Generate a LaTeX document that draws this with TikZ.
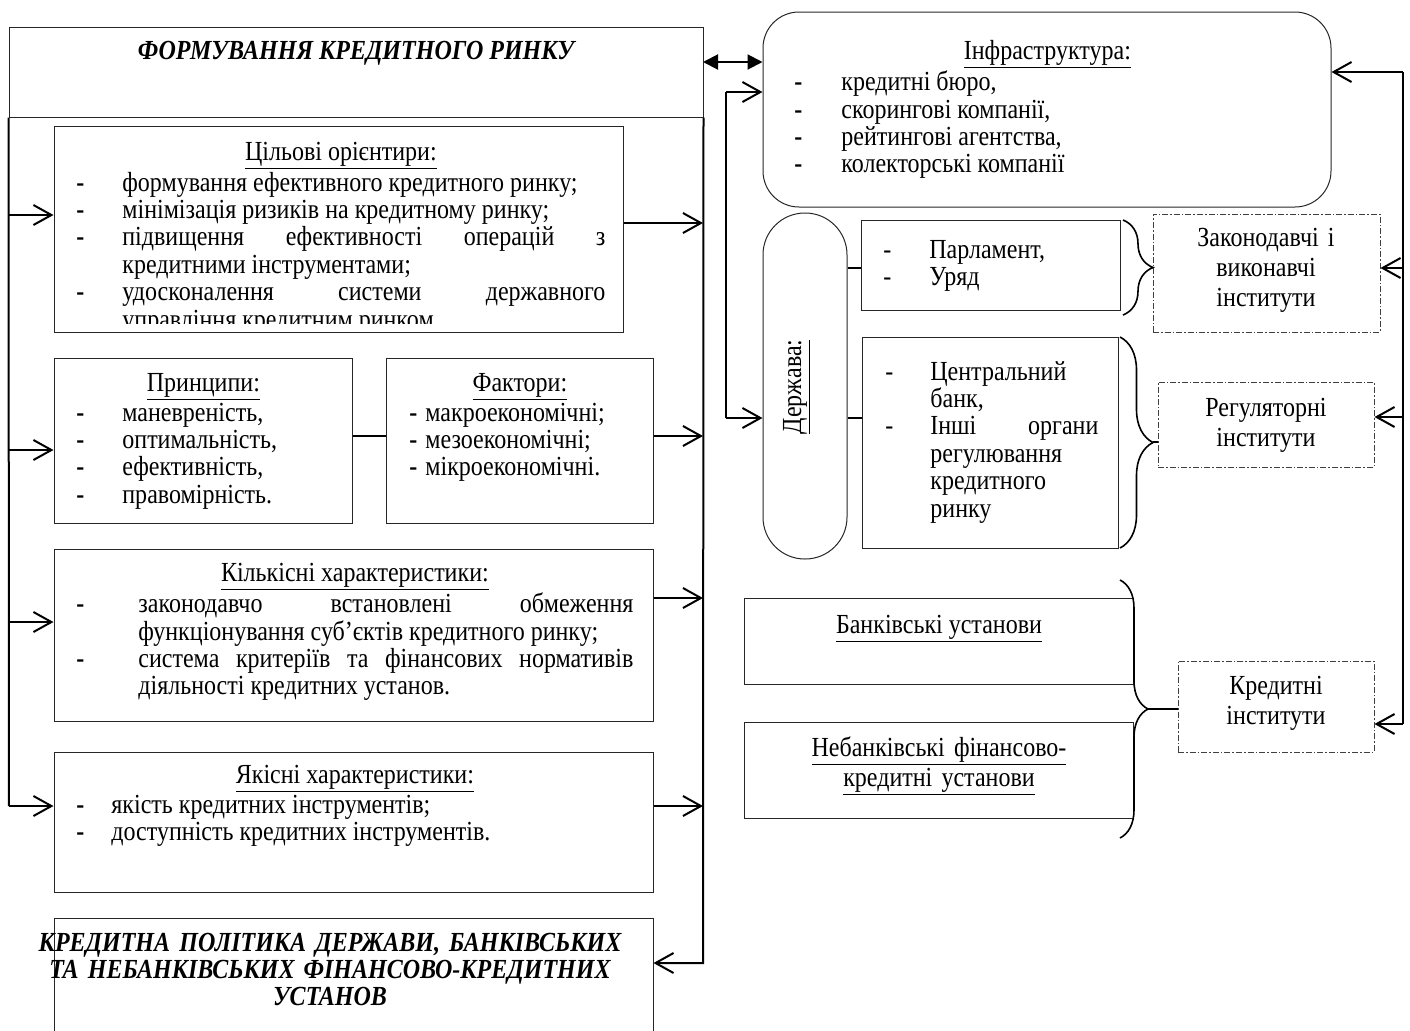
\documentclass[tikz,border=0pt]{standalone}
\usepackage{fontspec}
\setmainfont{Liberation Serif}[FakeStretch=0.87]
\usetikzlibrary{arrows.meta,fit,decorations.pathreplacing}
\newcommand{\bodyfont}{\fontsize{13.8pt}{13.7pt}\selectfont}
\newcommand{\ditem}[2]{\par\hangindent=#1\hangafter=1\noindent\makebox[#1][l]{#2}}
\newcommand{\fitem}[2]{\hangindent=#1\hangafter=1\makebox[#1][l]{#2}}
\newcommand{\bdash}{\textbf{-}}
\hyphenpenalty=10000
\exhyphenpenalty=10000
\begin{document}
\begin{tikzpicture}[x=0.5pt, y=-0.5pt, font=\bodyfont,
      box/.style={draw=black!85, line width=0.5pt, inner sep=0pt},
      rbox/.style={box, rounded corners=18pt},
      dbox/.style={draw=black!75, line width=0.5pt, dash pattern=on 3pt off 1pt on 0.8pt off 1pt, inner sep=0pt},
      txt/.style={inner sep=0pt, anchor=base west, align=justify},
      dtxt/.style={inner sep=0pt, anchor=base, text width=110pt, align=center, font=\fontsize{13.8pt}{15.2pt}\selectfont},
      ttl/.style={inner sep=0pt, anchor=base, align=center, font=\fontsize{13.8pt}{13.5pt}\selectfont\bfseries\itshape},
      arr/.style={line width=1pt, -{Straight Barb[length=9pt,width=10pt]}},
      darr/.style={line width=1pt, {Triangle[length=7.5pt,width=7.5pt]}-{Triangle[length=7.5pt,width=7.5pt]}},
      bus/.style={line width=1pt},
      link/.style={line width=0.6pt},
      brc/.style={line width=0.8pt, decorate, decoration={brace, amplitude=#1}}]
      \useasboundingbox (0,0) rectangle (1410,1030);
      % left column
      \node[box, fit={(9,27) (703,117)}] (form) {};
      \node[ttl] (form-t) at (356,59) {ФОРМУВАННЯ КРЕДИТНОГО РИНКУ};
      \node[box, fit={(54,126) (623,332)}] (goal) {};
      \begin{scope}
      \clip (goal.north west) rectangle ([yshift=4.5pt]goal.south east);
      \node[txt, text width=264.5pt] (goal-t) at (76,160) {\centerline{\underline{Цільові орієнтири:}}%
        \ditem{23pt}{\bdash}формування ефективного кредитного ринку;%
        \ditem{23pt}{\bdash}мінімізація ризиків на кредитному ринку;%
        \ditem{23pt}{\bdash}підвищення ефективності операцій з\linebreak кредитними інструментами;%
        \ditem{23pt}{\bdash}удосконалення системи державного\linebreak управління кредитним ринком.\par};
      \end{scope}
      \node[box, fit={(54,358) (352,523)}] (princ) {};
      \node[txt, text width=127pt] (princ-t) at (76,391) {\centerline{\underline{Принципи:}}%
        \ditem{23pt}{\bdash}маневреність,%
        \ditem{23pt}{\bdash}оптимальність,%
        \ditem{23pt}{\bdash}ефективність,%
        \ditem{23pt}{\bdash}правомірність.\par};
      \node[box, fit={(386,358) (653,523)}] (fact) {};
      \node[txt, text width=110.5pt] (fact-t) at (409,391) {\centerline{\underline{Фактори:}}%
        \ditem{8pt}{\bdash}макроекономічні;%
        \ditem{8pt}{\bdash}мезоекономічні;%
        \ditem{8pt}{\bdash}мікроекономічні.\par};
      \node[box, fit={(54,549) (653,721)}] (quant) {};
      \node[txt, text width=278.5pt] (quant-t) at (76,581) {\centerline{\underline{Кількісні характеристики:}}%
        \ditem{31pt}{\bdash}законодавчо встановлені обмеження\linebreak функціонування суб’єктів кредитного ринку;%
        \ditem{31pt}{\bdash}система критеріїв та фінансових нормативів\linebreak діяльності кредитних установ.\par};
      \node[box, fit={(54,752) (653,892)}] (qual) {};
      \node[txt, text width=278.5pt] (qual-t) at (76,783) {\centerline{\underline{Якісні характеристики:}}%
        \ditem{17.5pt}{\bdash}якість кредитних інструментів;%
        \ditem{17.5pt}{\bdash}доступність кредитних інструментів.\par};
      \node[box, fit={(54,918) (653,1040)}] (pol) {};
      \node[ttl, text width=310pt] (pol-t) at (330,951) {КРЕДИТНА ПОЛІТИКА ДЕРЖАВИ, БАНКІВСЬКИХ\\ТА НЕБАНКІВСЬКИХ ФІНАНСОВО-КРЕДИТНИХ\\УСТАНОВ};
      % buses of the left column
      \coordinate (lb-goal) at (9,215);
      \coordinate (lb-princ) at (9,450);
      \coordinate (lb-quant) at (9,622);
      \coordinate (lb-qual) at (9,806);
      \coordinate (rb-goal) at (703,223);
      \coordinate (rb-fact) at (703,436);
      \coordinate (rb-quant) at (703,598);
      \coordinate (rb-qual) at (703,806);
      \coordinate (rb-pol) at (703,963);
      \draw[bus] (form.south west) -- (lb-qual);
      \draw[arr] (lb-goal) -- (lb-goal -| goal.west);
      \draw[arr] (lb-princ) -- (lb-princ -| princ.west);
      \draw[arr] (lb-quant) -- (lb-quant -| quant.west);
      \draw[arr] (lb-qual) -- (lb-qual -| qual.west);
      \draw[link] (rb-fact -| princ.east) -- (rb-fact -| fact.west);
      \draw[arr] (rb-goal -| goal.east) -- (rb-goal);
      \draw[arr] (rb-fact -| fact.east) -- (rb-fact);
      \draw[arr] (rb-quant -| quant.east) -- (rb-quant);
      \draw[arr] (rb-qual -| qual.east) -- (rb-qual);
      \draw[arr] (form.south east) -- (rb-pol) -- (rb-pol -| pol.east);
      % right column
      \node[rbox, fit={(763,12) (1331,207)}] (infra) {};
      \node[txt, text width=253pt] (infra-t) at (794,59) {\centerline{\underline{Інфраструктура:}}%
        \ditem{23.5pt}{\bdash}кредитні бюро,%
        \ditem{23.5pt}{\bdash}скорингові компанії,%
        \ditem{23.5pt}{\bdash}рейтингові агентства,%
        \ditem{23.5pt}{\bdash}колекторські компанії\par};
      \coordinate (dbl) at (703,62);
      \draw[darr] (dbl) -- (dbl -| infra.west);
      \node[box, rounded corners=20.9pt, fit={(763,213) (847,559)}] (state) {};
      \node[rotate=90, inner sep=0pt] (state-t) at (797,387) {\underline{Держава:}};
      \coordinate (sb-top) at (726,92);
      \coordinate (sb-bot) at (726,418);
      \draw[bus] (sb-top) -- (sb-bot);
      \draw[arr] (sb-top) -- (sb-top -| infra.west);
      \draw[arr] (sb-bot) -- (sb-bot -| state.west);
      \node[box, fit={(861,220) (1120,310)}] (parl) {};
      \node[txt, text width=107.5pt] (parl-t) at (883,258) {\fitem{23pt}{-}Парламент,%
        \ditem{23pt}{-}Уряд\par};
      \draw[link] (state.east |- 0,268) -- (parl.west |- 0,268);
      \draw[brc=15pt] (1123,220) -- (1123,315);
      \node[dbox, fit={(1153,214) (1380,332)}] (legis) {};
      \node[dtxt] (legis-t) at (1266,246) {Законодавчі і\\виконавчі\\інститути};
      \node[box, fit={(862,337) (1118,548)}] (cb) {};
      \node[txt, text width=106.5pt] (cb-t) at (885,380) {\fitem{22.5pt}{-}Центральний\newline банк,%
        \ditem{22.5pt}{-}Інші органи\linebreak регулювання\newline кредитного\newline ринку\par};
      \draw[link] (sb-bot -| state.east) -- (sb-bot -| cb.west);
      \draw[brc=16.5pt] (1120,337) -- (1120,548);
      \coordinate (cb-tip) at (1153,442);
      \node[dbox, fit={(1158,382) (1374,467)}] (reg) {};
      \node[dtxt] (reg-t) at (1266,416) {Регуляторні\\інститути};
      \draw[link] (cb-tip) -- (cb-tip -| reg.west);
      \node[box, fit={(744,598) (1133,684)}] (bank) {};
      \node[inner sep=0pt, anchor=base] (bank-t) at (939,633) {\underline{Банківські установи}};
      \node[box, fit={(744,722) (1133,818)}] (nbank) {};
      \node[inner sep=0pt, anchor=base, text width=250pt, align=center, font=\fontsize{13.8pt}{15pt}\selectfont] (nbank-t) at (939,756) {\underline{Небанківські фінансово-}\\\underline{кредитні установи}};
      \draw[brc=14pt] (1120,580) -- (1120,838);
      \coordinate (cr-tip) at (1148,709);
      \node[dbox, fit={(1178,661) (1374,752)}] (cred) {};
      \node[dtxt] (cred-t) at (1276,694) {Кредитні\\інститути};
      \draw[link] (cr-tip) -- (cr-tip -| cred.west);
      % right bus
      \coordinate (rr-infra) at (1403,72);
      \coordinate (rr-legis) at (1403,268);
      \coordinate (rr-reg) at (1403,417);
      \coordinate (rr-cred) at (1403,724);
      \draw[bus] (rr-infra) -- (rr-cred);
      \draw[arr] (rr-infra) -- (rr-infra -| infra.east);
      \draw[arr] (rr-legis) -- (rr-legis -| legis.east);
      \draw[arr] (rr-reg) -- (rr-reg -| reg.east);
      \draw[arr] (rr-cred) -- (rr-cred -| cred.east);
\end{tikzpicture}
\end{document}
